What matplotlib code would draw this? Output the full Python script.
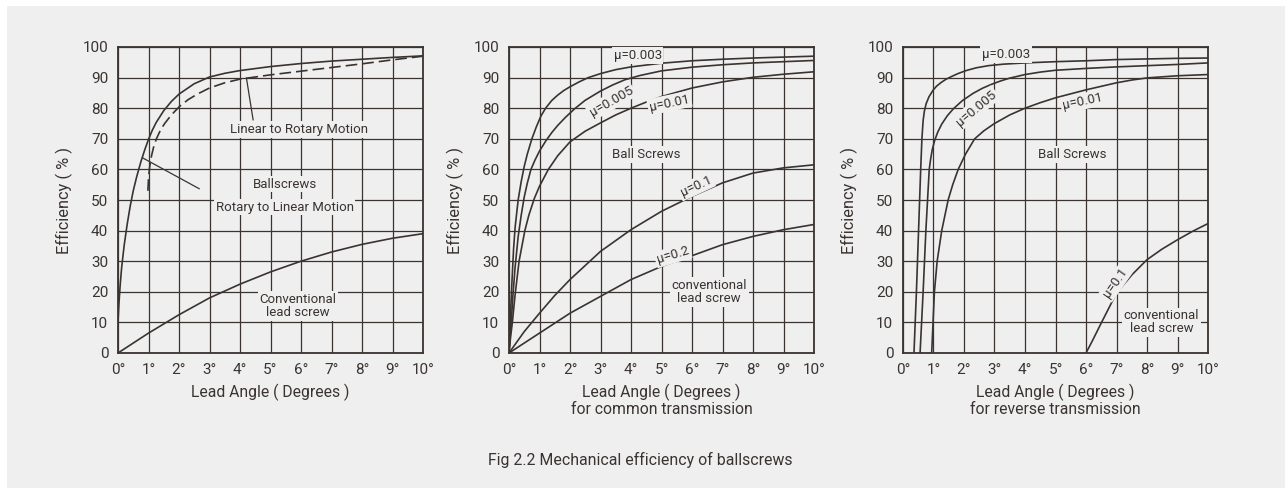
import matplotlib
matplotlib.use("Agg")
import matplotlib.pyplot as plt
from matplotlib.patches import Rectangle

plt.rcParams['font.family'] = ['Roboto', 'DejaVu Sans']

INK = '#3a3330'
BG = '#efefef'

# ---- panel 1: ballscrews vs conventional lead screw
p1_rot_x = [0, 0.03, 0.07, 0.12, 0.2, 0.3, 0.4, 0.5, 0.61, 0.75, 0.88, 1.0, 1.12, 1.25, 1.5, 1.75, 2.0, 2.5, 3.0, 3.5, 4, 5, 6, 7, 8, 9, 10]
p1_rot_y = [10, 16, 22, 28, 35, 42, 48, 53, 57.5, 62.5, 66.5, 69.8, 72.7, 75.3, 79.2, 82.2, 84.6, 88, 90.2, 91.4, 92.3, 93.6, 94.6, 95.4, 96, 96.6, 97.1]
p1_lin_x = [0.98, 1.0, 1.04, 1.1, 1.18, 1.26, 1.4, 1.53, 1.75, 2.02, 2.3, 2.6, 3.0, 3.5, 4.0, 4.5, 5, 6, 7, 8, 9, 10]
p1_lin_y = [53, 57, 61, 64.5, 67.8, 70, 73, 75, 77.8, 80.6, 82.8, 84.6, 86.6, 88.3, 89.5, 90.2, 90.9, 92.1, 93.3, 94.5, 95.8, 97]
p1_conv_x = [0, 1, 2, 3, 4, 5, 6, 7, 8, 9, 10]
p1_conv_y = [0, 6.5, 12.5, 18, 22.5, 26.5, 30, 33, 35.5, 37.5, 39]

# ---- panel 2: common transmission
p2_003_x = [0, 0.03, 0.06, 0.1, 0.15, 0.2, 0.3, 0.4, 0.5, 0.6, 0.75, 0.9, 1.05, 1.2, 1.4, 1.6, 1.8, 2.0, 2.3, 2.6, 3, 3.5, 4, 5, 6, 7, 8, 9, 10]
p2_003_y = [0, 8, 15, 24, 34, 41, 50, 56, 61, 65, 70, 74, 77.5, 80, 82.5, 84.3, 85.8, 87, 88.6, 90, 91.3, 92.6, 93.5, 94.7, 95.5, 96, 96.4, 96.7, 97]
p2_005_x = [0, 0.04, 0.08, 0.13, 0.2, 0.3, 0.4, 0.5, 0.6, 0.72, 0.85, 1.0, 1.2, 1.4, 1.6, 1.85, 2.15, 2.5, 3.0, 3.4, 3.8, 4.3, 5, 6, 7, 8, 9, 10]
p2_005_y = [0, 6, 11, 19, 28, 38, 45, 51, 55.5, 60, 63, 66, 69.2, 72, 74.4, 77, 79.8, 82.6, 85.6, 87.6, 89.3, 90.7, 92.2, 93.4, 94.2, 94.8, 95.2, 95.6]
p2_01_x = [0, 0.05, 0.11, 0.2, 0.33, 0.52, 0.65, 0.83, 1.0, 1.29, 1.6, 2.0, 2.5, 3, 3.5, 4, 4.5, 5, 6, 7, 8, 9, 10]
p2_01_y = [0, 5, 10, 19, 30, 40, 45, 50.5, 54.5, 60, 64.5, 69, 72.5, 75.2, 77.8, 80, 82, 83.8, 86.6, 88.6, 90.1, 91.1, 91.9]
p2_1_x = [0, 0.5, 1, 1.5, 2, 3, 4, 5, 6, 7, 8, 9, 10]
p2_1_y = [0, 7, 13, 18.8, 24, 33.2, 40.3, 46.3, 51.2, 55.6, 58.8, 60.5, 61.5]
p2_2_x = [0, 1, 2, 3, 4, 5, 6, 7, 8, 9, 10]
p2_2_y = [0, 6.5, 13, 18.5, 24, 28.3, 31.8, 35.4, 38.1, 40.3, 42]

# ---- panel 3: reverse transmission
p3_003_x = [0.36, 0.44, 0.51, 0.58, 0.62, 0.66, 0.7, 0.76, 0.85, 0.98, 1.1, 1.25, 1.4, 1.58, 1.8, 2.07, 2.4, 2.8, 3.3, 4, 5, 6, 7, 8, 9, 10]
p3_003_y = [0, 20, 40, 60, 70, 76, 79, 81.5, 83.7, 85.8, 87.2, 88.4, 89.4, 90.3, 91.3, 92.3, 93.2, 93.9, 94.4, 94.8, 95.2, 95.5, 95.9, 96.1, 96.3, 96.4]
p3_005_x = [0.56, 0.66, 0.75, 0.86, 0.9, 0.96, 1.04, 1.14, 1.27, 1.45, 1.65, 1.95, 2.29, 2.6, 2.9, 3.2, 3.49, 4, 4.5, 5, 6, 7, 8, 9, 10]
p3_005_y = [0, 20, 40, 60, 63, 66.5, 69.5, 72.2, 74.8, 77.5, 79.8, 82.5, 84.8, 86.5, 87.8, 88.9, 89.8, 91, 91.8, 92.4, 93, 93.5, 93.9, 94.3, 94.8]
p3_01_x = [0.94, 1.03, 1.12, 1.27, 1.48, 1.63, 1.81, 2.05, 2.35, 2.65, 3, 3.5, 4, 4.5, 5, 6, 7, 7.5, 8, 9, 10]
p3_01_y = [0, 20, 30, 40, 50, 55, 60, 65, 70, 72.6, 75, 77.8, 80, 81.8, 83.4, 86, 88.3, 89.2, 89.9, 90.6, 91]
p3_1_x = [6, 6.2, 6.5, 7, 7.5, 8, 8.5, 9, 9.5, 10]
p3_1_y = [0, 3.8, 9.8, 19.6, 25.5, 30.5, 34, 37, 39.8, 42.3]

xticks = list(range(11))
xticklabels = [f"{i}°" for i in xticks]
yticks = list(range(0, 101, 10))

fig = plt.figure(figsize=(12.85, 4.88), dpi=100, facecolor='white')
fig.patches.append(Rectangle((7 / 1285, 0), 1, (488 - 6) / 488, transform=fig.transFigure,
                             facecolor=BG, edgecolor='none', zorder=-10))

W, H = 1285, 488
lefts = [118, 509, 903]
axes = []
for lx in lefts:
    ax = fig.add_axes([lx / W, (H - 353) / H, 305 / W, 306 / H])
    ax.set_zorder(1)
    ax.set_facecolor(BG)
    ax.set_xlim(0, 10)
    ax.set_ylim(0, 100)
    ax.set_xticks(xticks)
    ax.set_xticklabels(xticklabels)
    ax.set_yticks(yticks)
    ax.tick_params(length=0, labelsize=11, colors=INK, pad=7)
    ax.grid(True, color=INK, lw=0.9)
    ax.set_axisbelow(True)
    for s in ax.spines.values():
        s.set_color(INK)
        s.set_linewidth(1.3)
    ax.set_ylabel("Efficiency ( % )", fontsize=11.8, color=INK, labelpad=7)
    axes.append(ax)

lbl = dict(fontsize=9.5, color=INK, ha='center', va='center',
           bbox=dict(facecolor=BG, edgecolor='none', pad=1.2))
crv = dict(color=INK, lw=1.2)

ax1, ax2, ax3 = axes

# panel 1
ax1.plot(p1_rot_x, p1_rot_y, **crv)
ax1.plot(p1_lin_x, p1_lin_y, color=INK, lw=1.2, linestyle=(0, (7, 3)))
ax1.plot(p1_conv_x, p1_conv_y, **crv)
ax1.plot([4.21, 4.43], [89.9, 76.2], color=INK, lw=0.9)
ax1.plot([0.82, 2.66], [63.7, 53.7], color=INK, lw=0.9)
ax1.text(5.93, 73, "Linear to Rotary Motion", **lbl)
ax1.text(5.46, 55.2, "Ballscrews", **lbl)
ax1.text(5.46, 47.7, "Rotary to Linear Motion", **lbl)
ax1.text(5.9, 15.3, "Conventional\nlead screw", linespacing=1.0, **lbl)
ax1.set_xlabel("Lead Angle ( Degrees )", fontsize=11.3, color=INK, labelpad=5)

# panel 2
for xs, ys in [(p2_003_x, p2_003_y), (p2_005_x, p2_005_y), (p2_01_x, p2_01_y),
               (p2_1_x, p2_1_y), (p2_2_x, p2_2_y)]:
    ax2.plot(xs, ys, **crv)
ax2.text(4.22, 97.2, "μ=0.003", **lbl)
ax2.text(3.35, 82.2, "μ=0.005", rotation=30, **lbl)
ax2.text(5.26, 81.7, "μ=0.01", rotation=12, **lbl)
ax2.text(4.49, 64.8, "Ball Screws", **lbl)
ax2.text(6.13, 54.5, "μ=0.1", rotation=25, **lbl)
ax2.text(5.37, 32, "μ=0.2", rotation=17, **lbl)
ax2.text(6.56, 20, "conventional\nlead screw", linespacing=1.0, **lbl)
ax2.set_xlabel("Lead Angle ( Degrees )\nfor common transmission", fontsize=11.3,
               color=INK, labelpad=5, linespacing=1.1)

# panel 3
for xs, ys in [(p3_003_x, p3_003_y), (p3_005_x, p3_005_y), (p3_01_x, p3_01_y), (p3_1_x, p3_1_y)]:
    ax3.plot(xs, ys, **crv)
ax3.text(3.38, 97.5, "μ=0.003", **lbl)
ax3.text(2.4, 80, "μ=0.005", rotation=40, **lbl)
ax3.text(5.88, 82.2, "μ=0.01", rotation=12, **lbl)
ax3.text(5.56, 64.8, "Ball Screws", **lbl)
ax3.text(6.97, 22.9, "μ=0.1", rotation=55, **lbl)
ax3.text(8.47, 10, "conventional\nlead screw", linespacing=1.0, **lbl)
ax3.set_xlabel("Lead Angle ( Degrees )\nfor reverse transmission", fontsize=11.3,
               color=INK, labelpad=5, linespacing=1.1)

fig.text(640 / W, 1 - 460 / H, "Fig 2.2 Mechanical efficiency of ballscrews",
         fontsize=11.4, color=INK, ha='center', va='center')

fig.savefig("out.png", dpi=100, facecolor='white')
